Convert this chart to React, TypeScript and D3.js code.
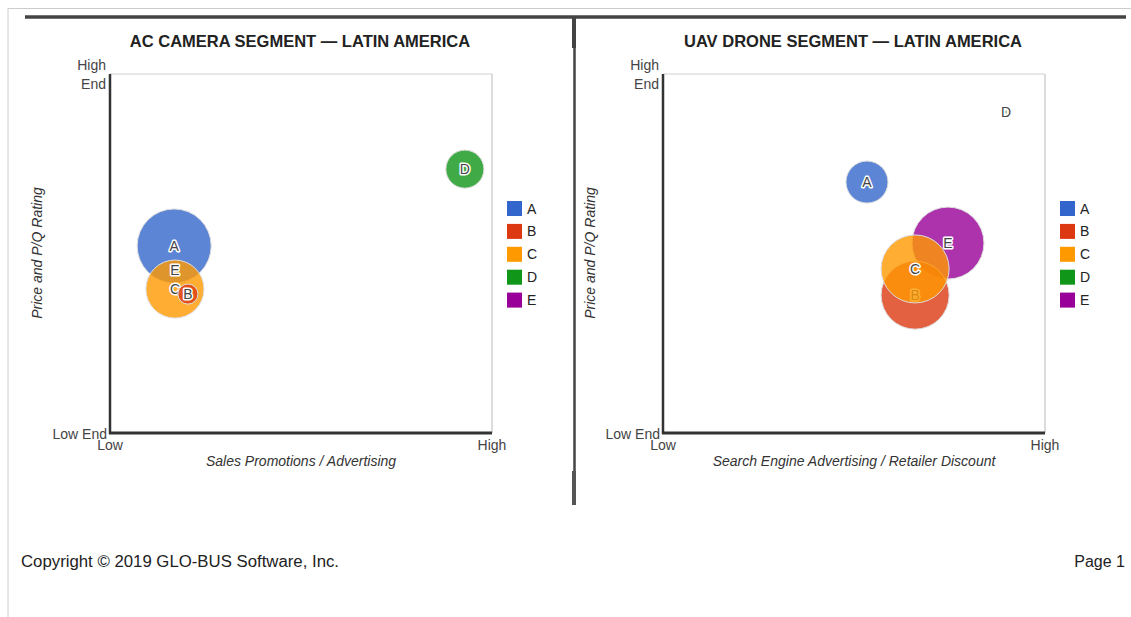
import React from 'react';
import * as d3 from 'd3';

const companies = ['A', 'B', 'C', 'D', 'E'];
const colors = ['#3366cc', '#dc3912', '#ff9900', '#109618', '#990099'];

const cameraTitle = 'AC CAMERA SEGMENT — LATIN AMERICA';
const cameraXTitle = 'Sales Promotions / Advertising';
const cameraX = [16.8, 20.4, 17.0, 92.9, 17.0];
const cameraY = [52.1, 38.7, 40.1, 73.5, 45.4];
const cameraSize = [85.6, 6.3, 52.6, 22.6, 0.1];

const droneTitle = 'UAV DRONE SEGMENT — LATIN AMERICA';
const droneXTitle = 'Search Engine Advertising / Retailer Discount';
const droneX = [53.4, 66.0, 66.0, 89.8, 74.6];
const droneY = [69.9, 38.4, 45.7, 89.4, 52.9];
const droneSize = [27.6, 72.3, 72.3, 0.1, 81.0];

const yTitle = 'Price and P/Q Rating';
const yTickHigh = ['High', 'End'];
const yTickLow = 'Low End';
const xTickLow = 'Low';
const xTickHigh = 'High';

const FONT = "Arial, 'Liberation Sans', sans-serif";

type PanelProps = {
  ox: number;
  title: string;
  xTitle: string;
  xs: number[];
  ys: number[];
  sizes: number[];
};

function Panel({ ox, title, xTitle, xs, ys, sizes }: PanelProps) {
  const left = ox + 110;
  const right = ox + 492;
  const top = 74;
  const bottom = 433;
  const x = d3.scaleLinear().domain([0, 100]).range([left, right]);
  const y = d3.scaleLinear().domain([0, 100]).range([bottom, top]);
  const r = d3.scaleSqrt().domain([0, 100]).range([0, 40]);

  const pts = companies.map((c, i) => ({ c, i, x: xs[i], y: ys[i], s: sizes[i] }));
  const order = d3.sort(pts, (a, b) => d3.descending(a.s, b.s));

  const cx = (left + right) / 2;
  return (
    <g>
      <text x={ox + 300} y={47} textAnchor="middle" fontFamily={FONT} fontWeight="bold" fontSize={16.5} fill="#222">
        {title}
      </text>
      {/* plot frame */}
      <line x1={left} x2={right} y1={top} y2={top} stroke="#d0d0d0" strokeWidth={1} />
      <line x1={right} x2={right} y1={top} y2={bottom} stroke="#d0d0d0" strokeWidth={1.5} />
      {/* bubbles */}
      {order.map((p) => (
        <g key={p.c}>
          <circle cx={x(p.x)} cy={y(p.y)} r={r(p.s)} fill={colors[p.i]} fillOpacity={0.8} stroke="#ddd" strokeWidth={1} />
          <text
            x={x(p.x)}
            y={y(p.y) + 5}
            textAnchor="middle"
            fontFamily={FONT}
            fontSize={14}
            fill="#444"
            stroke="#fff"
            strokeWidth={3}
            paintOrder="stroke"
            strokeLinejoin="round"
          >
            {p.c}
          </text>
        </g>
      ))}
      {/* axes */}
      <line x1={left} x2={left} y1={top} y2={bottom + 1} stroke="#333" strokeWidth={2.5} />
      <line x1={left - 1} x2={right} y1={bottom} y2={bottom} stroke="#333" strokeWidth={3} />
      {/* tick labels */}
      <text x={left - 4} y={70} textAnchor="end" fontFamily={FONT} fontSize={14} fill="#444">{yTickHigh[0]}</text>
      <text x={left - 4} y={89} textAnchor="end" fontFamily={FONT} fontSize={14} fill="#444">{yTickHigh[1]}</text>
      <text x={left - 3} y={439} textAnchor="end" fontFamily={FONT} fontSize={14} fill="#444">{yTickLow}</text>
      <text x={left} y={450} textAnchor="middle" fontFamily={FONT} fontSize={14} fill="#444">{xTickLow}</text>
      <text x={right} y={450} textAnchor="middle" fontFamily={FONT} fontSize={14} fill="#444">{xTickHigh}</text>
      {/* axis titles */}
      <text x={cx} y={466} textAnchor="middle" fontFamily={FONT} fontStyle="italic" fontSize={14} fill="#333">
        {xTitle}
      </text>
      <text
        transform={`translate(${ox + 42},${253}) rotate(-90)`}
        textAnchor="middle"
        fontFamily={FONT}
        fontStyle="italic"
        fontSize={14}
        fill="#333"
      >
        {yTitle}
      </text>
      {/* legend */}
      {companies.map((c, i) => (
        <g key={c}>
          <rect x={ox + 507} y={201 + i * 22.9} width={15} height={15} fill={colors[i]} />
          <text x={ox + 527} y={213.5 + i * 22.9} fontFamily={FONT} fontSize={14} fill="#222">{c}</text>
        </g>
      ))}
    </g>
  );
}

export default function App() {
  return (
    <svg
      width={1131}
      height={617}
      style={{ position: 'absolute', left: 0, top: 0, display: 'block', background: '#fff' }}
    >
      <rect x={0} y={0} width={1131} height={617} fill="#fff" />
      {/* page borders */}
      <line x1={8} x2={1131} y1={8.5} y2={8.5} stroke="#ccc" strokeWidth={1} />
      <line x1={8} x2={8} y1={8} y2={617} stroke="#ccc" strokeWidth={1} />
      {/* heavy separators */}
      <line x1={25} x2={1126} y1={17} y2={17} stroke="#444" strokeWidth={3.5} />
      <line x1={574.5} x2={574.5} y1={17} y2={505} stroke="#444" strokeWidth={2.5} />
      <line x1={574} x2={574} y1={17} y2={48} stroke="#444" strokeWidth={4} />
      <line x1={574} x2={574} y1={471} y2={505} stroke="#555" strokeWidth={4} />

      <Panel ox={0} title={cameraTitle} xTitle={cameraXTitle} xs={cameraX} ys={cameraY} sizes={cameraSize} />
      <Panel ox={553} title={droneTitle} xTitle={droneXTitle} xs={droneX} ys={droneY} sizes={droneSize} />

      <text x={21} y={567} fontFamily={FONT} fontSize={16} fill="#222" textLength={318} lengthAdjust="spacingAndGlyphs">
        Copyright © 2019 GLO-BUS Software, Inc.
      </text>
      <text x={1125} y={567} textAnchor="end" fontFamily={FONT} fontSize={16} fill="#222">
        Page 1
      </text>
    </svg>
  );
}
